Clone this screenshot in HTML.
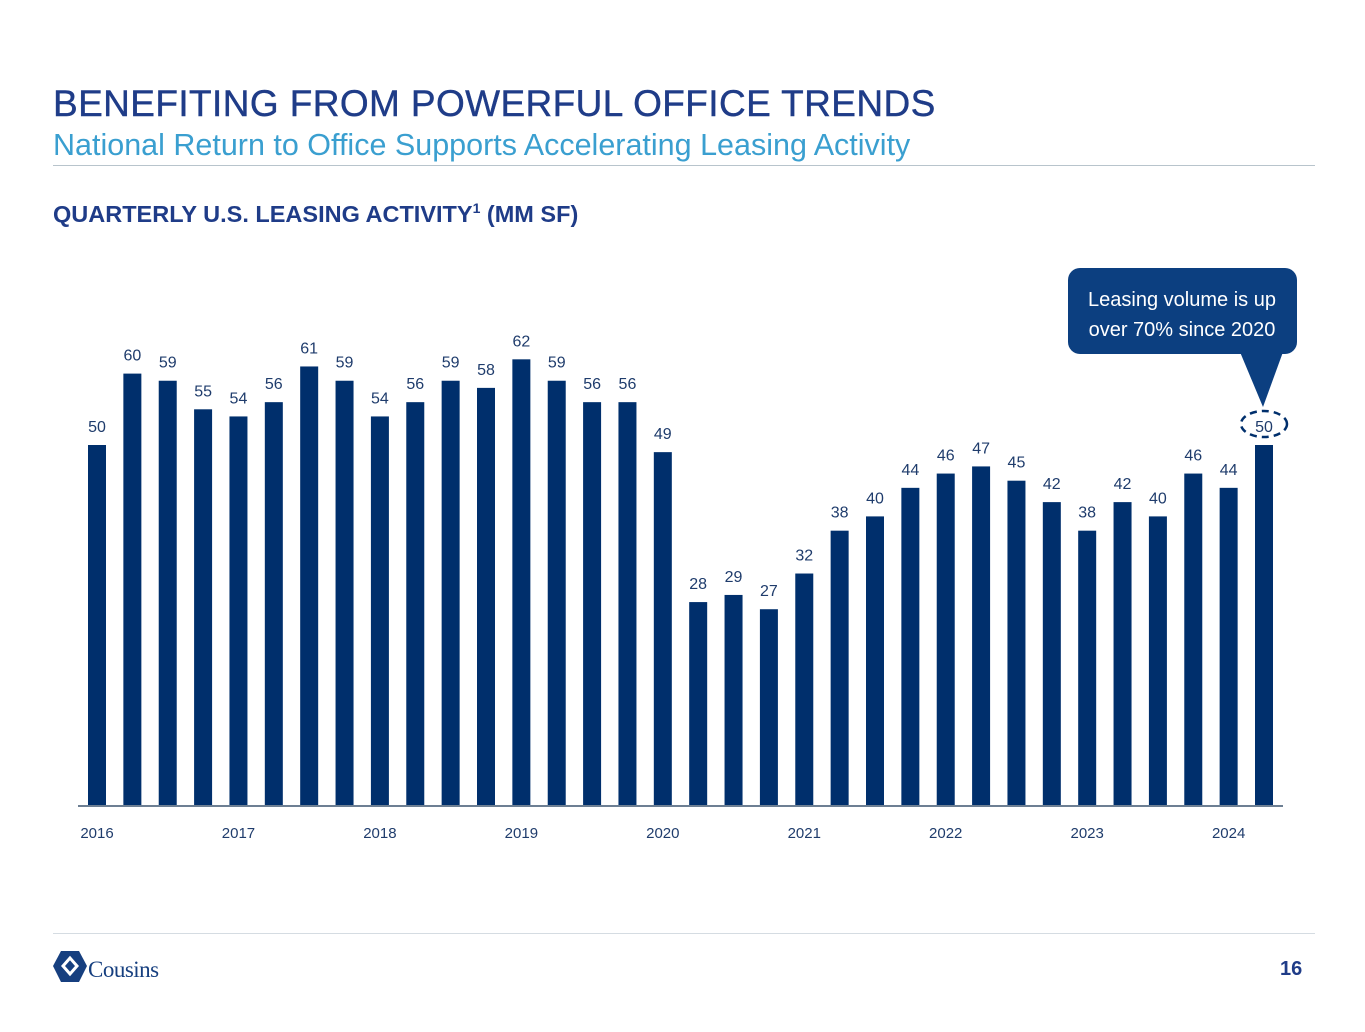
<!DOCTYPE html>
<html><head><meta charset="utf-8"><style>
body{margin:0;width:1365px;height:1032px;background:#fff;position:relative;overflow:hidden;font-family:"Liberation Sans",sans-serif}
.abs{position:absolute}
</style></head><body>
<div class="abs" style="left:53px;top:83px;font-size:37px;color:#1f3c88;letter-spacing:0.4px;-webkit-text-stroke:0.4px #1f3c88">BENEFITING FROM POWERFUL OFFICE TRENDS</div>
<div class="abs" style="left:53px;top:128px;font-size:30.5px;color:#3a9fd0;font-weight:300">National Return to Office Supports Accelerating Leasing Activity</div>
<div class="abs" style="left:53px;top:165px;width:1262px;height:1px;background:#b8c4cc"></div>
<div class="abs" style="left:53px;top:200px;font-size:23.5px;font-weight:bold;color:#1f3c88">QUARTERLY U.S. LEASING ACTIVITY<sup style="font-size:14px">1</sup> (MM SF)</div>
<svg class="abs" style="left:0;top:0" width="1365" height="1032">
<g id="bars"></g>
<line x1="78" x2="1283" y1="806" y2="806" stroke="#6d7f93" stroke-width="2"/>
<g>
<rect x="1068" y="268" width="229" height="86" rx="12" fill="#0c3f80"/>
<polygon points="1240,352 1283,352 1263,407" fill="#0c3f80"/>
<text x="1182" y="306" text-anchor="middle" font-size="20" fill="#fff">Leasing volume is up</text>
<text x="1182" y="336" text-anchor="middle" font-size="20" fill="#fff">over 70% since 2020</text>
</g>
<ellipse cx="1264" cy="424" rx="23" ry="13" fill="none" stroke="#002f6c" stroke-width="2.5" stroke-dasharray="7,5"/>
</svg>
<div class="abs" style="left:53px;top:933px;width:1262px;height:1px;background:#d5dce2"></div>
<svg class="abs" style="left:52px;top:950px" width="36" height="34"><polygon points="9,1 27,1 35,16 27,32 9,32 1,16" fill="#163f7f"/><path d="M11,16 L18,8 L25,16 L18,24 Z" fill="none" stroke="#fff" stroke-width="3"/></svg>
<div class="abs" style="left:88px;top:957px;font-family:'Liberation Serif',serif;font-size:23px;color:#163f7f;letter-spacing:-0.5px">Cousins</div>
<div class="abs" style="left:1280px;top:958px;font-size:20px;font-weight:bold;color:#1f3c88">16</div>
<script>
const values=[50,60,59,55,54,56,61,59,54,56,59,58,62,59,56,56,49,28,29,27,32,38,40,44,46,47,45,42,38,42,40,46,44,50];
const years=["2016","2017","2018","2019","2020","2021","2022","2023","2024"];
const x0=97,step=(1264-97)/33,base=806,zero=802,k=7.14,bw=18;
const X=i=>x0+i*step, Y=v=>zero-v*k;
const ns="http://www.w3.org/2000/svg", g=document.getElementById('bars');
values.forEach((v,i)=>{
 const r=document.createElementNS(ns,'rect');
 r.setAttribute('x',X(i)-bw/2);r.setAttribute('y',Y(v));r.setAttribute('width',bw);r.setAttribute('height',base-Y(v));r.setAttribute('fill','#002f6c');
 
 
 g.appendChild(r);
 const t=document.createElementNS(ns,'text');
 t.setAttribute('x',X(i));t.setAttribute('y',Y(v)-13);t.setAttribute('text-anchor','middle');t.setAttribute('font-size','16');t.setAttribute('fill','#1f3c6c');
 t.textContent=v;
 
 
 g.appendChild(t);
});
years.forEach((y,j)=>{
 const t=document.createElementNS(ns,'text');
 t.setAttribute('x',X(j*4));t.setAttribute('y',838);t.setAttribute('text-anchor','middle');t.setAttribute('font-size','15');t.setAttribute('fill','#1f3c6c');
 t.textContent=y;
 
 
 g.appendChild(t);
});
</script>
</body></html>
